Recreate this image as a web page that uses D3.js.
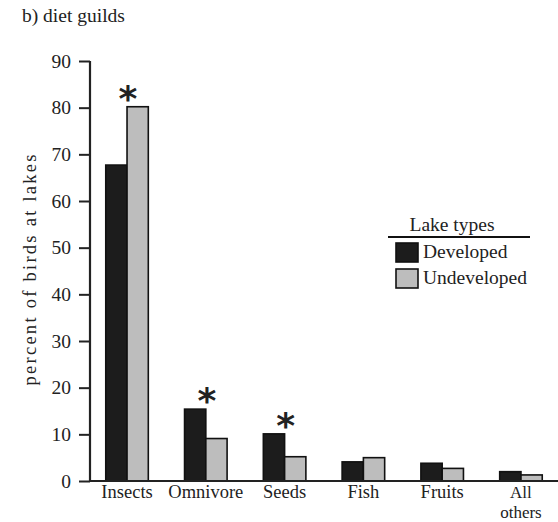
<!DOCTYPE html>
<html>
<head>
<meta charset="utf-8">
<script src="https://cdn.jsdelivr.net/npm/d3@7"></script>
<style>
  body { margin: 0; background: #fff; }
  text { font-family: "Liberation Serif", "DejaVu Serif", serif; fill: #222; }
</style>
</head>
<body>
<div id="chart"></div>
<script>
var categories = ["Insects", "Omnivore", "Seeds", "Fish", "Fruits", "All others"]
var developed = [67.7, 15.4, 10.1, 4.1, 3.8, 2.0]
var undeveloped = [80.2, 9.1, 5.2, 5.0, 2.7, 1.3]
var significant = ["Insects", "Omnivore", "Seeds"]
var yTicks = [0, 10, 20, 30, 40, 50, 60, 70, 80, 90]
var series = ["Developed", "Undeveloped"]
var colors = ["#1c1c1c", "#bdbdbd"]

var width = 558,
    height = 522

var svg = d3.select("#chart")
    .append("svg")
    .attr("width", width)
    .attr("height", height)

var x = d3.scaleBand()
    .domain(categories)
    .range([90, 558])
    .paddingInner(0.46)
    .paddingOuter(0.2)

var xSub = d3.scaleBand()
    .domain(series)
    .range([0, x.bandwidth()])

var y = d3.scaleLinear()
    .domain([0, 90])
    .range([481, 61])

var color = d3.scaleOrdinal().domain(series).range(colors)

// title
svg.append("text")
    .text("b) diet guilds")
    .attr("x", 22)
    .attr("y", 22)
    .style("font-size", "19.5px")

// y axis
var yAxis = svg.append("g")
    .attr("transform", "translate(90,0)")
    .call(d3.axisLeft(y).tickValues(yTicks).tickSize(11).tickPadding(8))
yAxis.select(".domain").attr("d", "M0," + y(90) + "V" + y(0)).attr("stroke-width", 2.2).attr("stroke", "#222")
yAxis.selectAll(".tick line").attr("stroke-width", 2).attr("stroke", "#222")
yAxis.selectAll(".tick text")
    .style("font-size", "19.5px")
    .style("font-family", "Liberation Serif")
    .attr("fill", "#333")

svg.append("text")
    .text("percent of birds at lakes")
    .attr("transform", "translate(36,270) rotate(-90)")
    .attr("text-anchor", "middle")
    .attr("textLength", 231)
    .attr("lengthAdjust", "spacing")
    .style("font-size", "18.5px")

// bars
var rows = categories.map(function (c, i) {
    return { cat: c, values: [
        { key: "Developed", v: developed[i] },
        { key: "Undeveloped", v: undeveloped[i] }
    ] }
})

var groups = svg.selectAll("g.grp")
    .data(rows)
    .enter()
    .append("g")
    .attr("class", "grp")
    .attr("transform", function (d) { return "translate(" + x(d.cat) + ",0)" })

groups.selectAll("rect")
    .data(function (d) { return d.values })
    .enter()
    .append("rect")
    .attr("x", function (d) { return xSub(d.key) })
    .attr("y", function (d) { return y(d.v) })
    .attr("width", xSub.bandwidth())
    .attr("height", function (d) { return y(0) - y(d.v) })
    .attr("fill", function (d) { return color(d.key) })
    .attr("stroke", "#111")
    .attr("stroke-width", 1.6)

// significance stars
groups.filter(function (d) { return significant.indexOf(d.cat) >= 0 })
    .append("text")
    .text("*")
    .attr("x", x.bandwidth() / 2 + 1)
    .attr("y", function (d) { return y(d3.max(d.values, function (e) { return e.v })) + 4 })
    .attr("text-anchor", "middle")
    .style("font-size", "36px")
    .style("font-weight", "bold")
    .style("font-family", "DejaVu Sans")
    .attr("fill", "#111")

// x axis
svg.append("line")
    .attr("x1", 89)
    .attr("x2", 558)
    .attr("y1", y(0))
    .attr("y2", y(0))
    .attr("stroke", "#222")
    .attr("stroke-width", 2.2)

groups.append("text")
    .attr("text-anchor", "middle")
    .attr("x", x.bandwidth() / 2)
    .style("font-size", function (d) { return d.cat === "All others" ? "17px" : "18.5px" })
    .each(function (d) {
        var words = d.cat === "All others" ? ["All", "others"] : [d.cat]
        var t = d3.select(this)
        words.forEach(function (w, i) {
            t.append("tspan")
                .attr("x", x.bandwidth() / 2)
                .attr("y", 498 + i * 20)
                .text(w)
        })
    })

// legend
var lg = svg.append("g").attr("transform", "translate(396,0)")
lg.append("text")
    .text("Lake types")
    .attr("x", 56)
    .attr("y", 231)
    .attr("text-anchor", "middle")
    .style("font-size", "19.5px")
lg.append("line")
    .attr("x1", -8)
    .attr("x2", 134)
    .attr("y1", 237)
    .attr("y2", 237)
    .attr("stroke", "#111")
    .attr("stroke-width", 2)

var items = lg.selectAll("g.item")
    .data(series)
    .enter()
    .append("g")
    .attr("class", "item")
    .attr("transform", function (d, i) { return "translate(0," + (243 + i * 26) + ")" })
items.append("rect")
    .attr("width", 22)
    .attr("height", 19)
    .attr("fill", function (d) { return color(d) })
    .attr("stroke", "#111")
    .attr("stroke-width", 1.6)
items.append("text")
    .text(function (d) { return d })
    .attr("x", 27)
    .attr("y", 15)
    .style("font-size", "19.5px")
</script>
</body>
</html>
